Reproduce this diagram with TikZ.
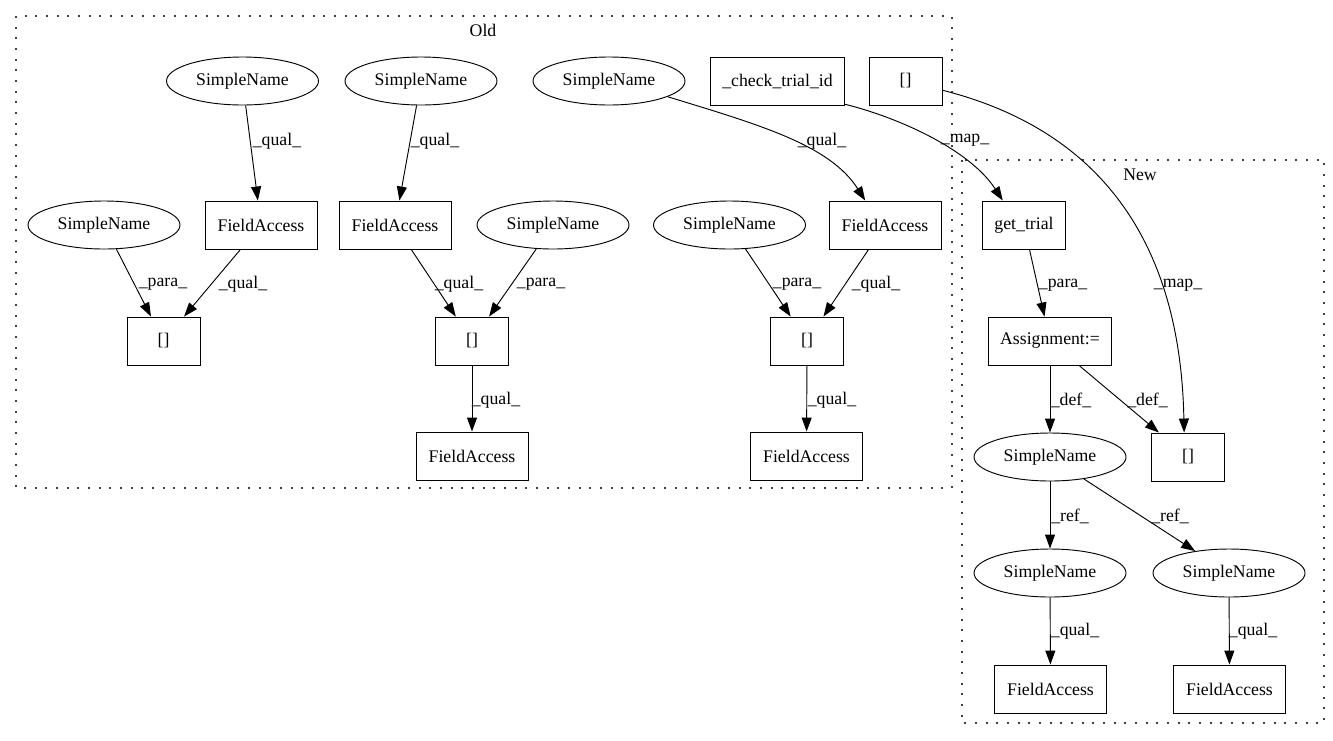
\documentclass[tikz,border=0pt]{standalone}
\usepackage{fontspec}
\setmainfont{Liberation Serif}
\usetikzlibrary{arrows.meta,shapes.geometric}

\newcommand{\gvfont}{\fontsize{13.3}{16}\selectfont}

\tikzset{
  sname/.style={draw, ellipse, line width=0.7pt, minimum width=114pt, minimum height=36pt, inner sep=0pt, font=\gvfont},
  opbox/.style={draw, rectangle, line width=0.7pt, minimum width=54.75pt, minimum height=36pt, inner xsep=9pt, font=\gvfont},
  fabox/.style={opbox, minimum width=84pt},
  lbl/.style={inner sep=0pt, font=\gvfont},
  edge/.style={line width=0.7pt, -{Triangle[length=10.5pt,width=7.5pt]}},
  clus/.style={line width=1.5pt, black!75, dash pattern=on 1.5pt off 6.5pt}
}

\begin{document}
\begin{tikzpicture}[x=0.75pt,y=0.75pt,yscale=-1,xscale=1]
\useasboundingbox (0,0) rectangle (1333,740);
%Clusters
\draw[clus] (16,16) rectangle (952,488);
\draw[clus] (962,160) rectangle (1324,723);
% Text Node
\draw (483,30) node[lbl] {Old};
% Text Node
\draw (1140,175) node[lbl] {New};

%Nodes of Old
\node[sname] (sn1) at (242.5,81) {SimpleName};
\node[sname] (sn2) at (421,81) {SimpleName};
\node[sname] (sn3) at (609,81) {SimpleName};
\node[opbox] (chk) at (777.5,81) {\_check\_trial\_id};
\node[opbox] (br0) at (905.5,81) {[]};
\node[sname] (sn4) at (104,225) {SimpleName};
\node[fabox] (fa1) at (261,225) {FieldAccess};
\node[fabox] (fa2) at (395,225) {FieldAccess};
\node[sname] (sn5) at (553,225) {SimpleName};
\node[sname] (sn6) at (729.5,225) {SimpleName};
\node[fabox] (fa3) at (885,225) {FieldAccess};
\node[opbox] (br1) at (163.5,341) {[]};
\node[opbox] (br2) at (472,341) {[]};
\node[opbox] (br3) at (807,341) {[]};
\node[fabox] (fa4) at (472,456) {FieldAccess};
\node[fabox] (fa5) at (806.5,456) {FieldAccess};

%Nodes of New
\node[opbox] (gtr) at (1024,225) {get\_trial};
\node[opbox] (asg) at (1050,341) {Assignment:=};
\node[sname] (sn7) at (1050,457) {SimpleName};
\node[opbox] (br4) at (1188,457) {[]};
\node[sname] (sn8) at (1050,573) {SimpleName};
\node[sname] (sn9) at (1229,573) {SimpleName};
\node[fabox] (fa6) at (1050.5,689) {FieldAccess};
\node[fabox] (fa7) at (1229.5,689) {FieldAccess};

%Straight Lines
\draw[edge] (sn1) -- (fa1) node[lbl] at (277,141) {\_qual\_};
\draw[edge] (sn2) -- (fa2) node[lbl] at (435,141) {\_qual\_};
\draw[edge] (sn4) -- (br1) node[lbl] at (163,284) {\_para\_};
\draw[edge] (fa1) -- (br1) node[lbl] at (243,284) {\_qual\_};
\draw[edge] (fa2) -- (br2) node[lbl] at (459,284) {\_qual\_};
\draw[edge] (sn5) -- (br2) node[lbl] at (541,284) {\_para\_};
\draw[edge] (sn6) -- (br3) node[lbl] at (797,284) {\_para\_};
\draw[edge] (fa3) -- (br3) node[lbl] at (876,284) {\_qual\_};
\draw[edge] (br2) -- (fa4) node[lbl] at (496,400) {\_qual\_};
\draw[edge] (br3) -- (fa5) node[lbl] at (832,400) {\_qual\_};
\draw[edge] (gtr) -- (asg) node[lbl] at (1063,285) {\_para\_};
\draw[edge] (asg) -- (sn7) node[lbl] at (1071,400) {\_def\_};
\draw[edge] (asg) -- (br4) node[lbl] at (1147.5,400) {\_def\_};
\draw[edge] (sn7) -- (sn8) node[lbl] at (1070,516) {\_ref\_};
\draw[edge] (sn7) -- (sn9) node[lbl] at (1170,516) {\_ref\_};
\draw[edge] (sn8) -- (fa6) node[lbl] at (1075,631) {\_qual\_};
\draw[edge] (sn9) -- (fa7) node[lbl] at (1253,631) {\_qual\_};

%Curve Lines
\draw[edge] (sn3.-15) .. controls (760,125) and (830,145) .. (fa3.129) node[lbl] at (822,141) {\_qual\_};
%Curve Lines
\draw[edge] (chk.-19) .. controls (900,118) and (970,150) .. (gtr.131) node[lbl] at (965,140) {\_map\_};
%Curve Lines
\draw[edge] (br0.-14) .. controls (1080,125) and (1180,220) .. (br4.99) node[lbl] at (1178,285) {\_map\_};
\end{tikzpicture}
\end{document}
